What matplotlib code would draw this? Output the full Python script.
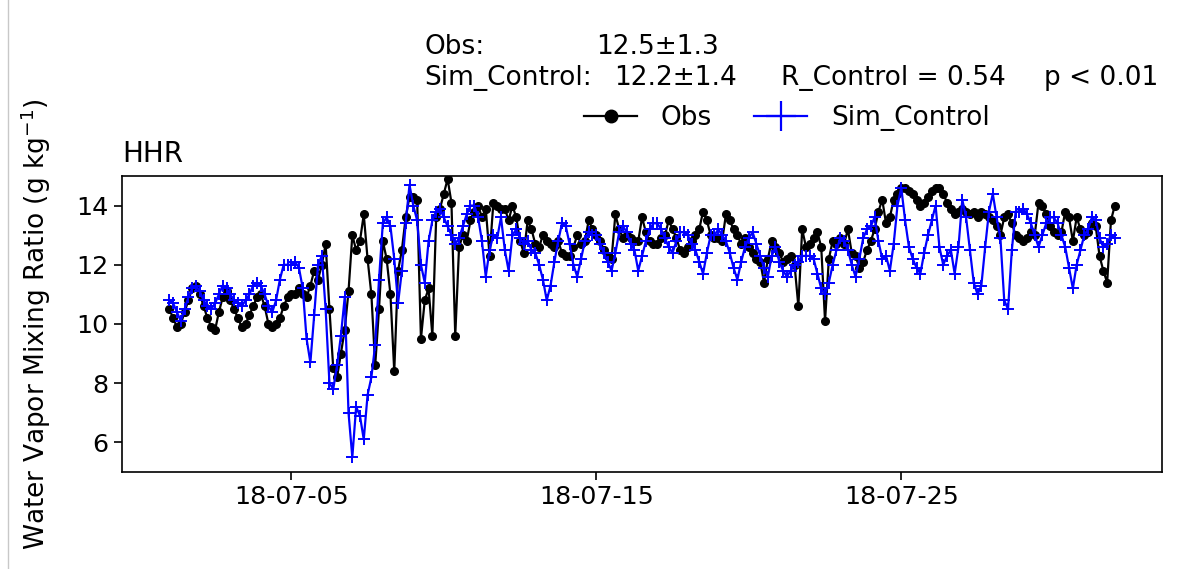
import matplotlib
matplotlib.use("Agg")
import matplotlib.pyplot as plt
import matplotlib.dates as mdates
from matplotlib.lines import Line2D
import numpy as np
import pandas as pd

# ---------------- data (3-hourly estimates) ----------------
start_time = "2018-07-01 00:00"
step = "3h"

obs_values = [
    10.5, 10.2, 9.9, 10.0, 10.4, 10.8, 11.2, 11.3,
    11.0, 10.6, 10.2, 9.9, 9.8, 10.4, 10.9, 11.1,
    10.8, 10.5, 10.2, 9.9, 10.0, 10.3, 10.6, 10.9,
    11.0, 10.6, 10.0, 9.9, 10.0, 10.2, 10.6, 10.9,
    11.0, 11.0, 11.2, 11.0, 10.9, 11.3, 11.8, 11.5,
    12.0, 12.7, 10.5, 8.5, 8.2, 9.0, 9.8, 11.1,
    13.0, 12.5, 12.8, 13.7, 12.2, 11.0, 8.6, 10.5,
    12.8, 12.2, 11.0, 8.4, 11.8, 12.5, 13.6, 14.3,
    14.3, 14.2, 9.5, 10.8, 11.2, 9.6, 13.6, 13.9,
    14.4, 14.9, 14.1, 9.6, 12.6, 13.0, 12.8, 13.5,
    13.8, 14.0, 13.6, 13.9, 12.3, 14.1, 14.0, 13.9,
    13.9, 13.5, 14.0, 13.6, 12.8, 12.4, 13.5, 13.2,
    12.7, 12.6, 13.0, 12.8, 12.7, 12.6, 12.8, 12.4,
    12.3, 12.3, 12.6, 13.0, 12.7, 12.8, 13.5, 13.2,
    13.0, 12.8, 12.5, 12.3, 12.2, 13.7, 13.2, 12.9,
    13.0, 12.9, 12.8, 12.8, 13.6, 13.1, 12.8, 12.7,
    12.7, 12.9, 13.0, 13.5, 13.2, 12.9, 12.5, 12.4,
    12.6, 12.8, 13.0, 13.2, 13.8, 13.5, 13.0, 12.9,
    12.9, 12.8, 13.7, 13.5, 13.2, 13.0, 12.7, 12.9,
    12.6, 12.4, 12.2, 12.1, 11.4, 12.2, 12.8, 12.6,
    12.4, 12.1, 12.2, 12.3, 12.0, 10.6, 13.2, 12.6,
    12.7, 12.9, 13.1, 12.6, 10.1, 12.2, 12.8, 12.7,
    12.9, 12.7, 13.2, 12.4, 12.3, 11.9, 12.1, 12.5,
    12.8, 13.2, 13.8, 14.2, 13.4, 13.6, 14.2, 14.4,
    14.6, 14.6, 14.5, 14.4, 14.2, 14.0, 14.1, 14.3,
    14.5, 14.6, 14.6, 14.4, 14.1, 13.9, 13.7, 13.8,
    13.9, 13.8, 13.7, 13.8, 13.6, 13.8, 13.7, 13.6,
    13.5, 13.3, 13.0, 13.6, 13.7, 13.4, 13.0, 12.9,
    12.8, 12.9, 13.1, 13.0, 14.1, 14.0, 13.7, 13.3,
    13.1, 13.0, 13.1, 13.8, 13.6, 12.8, 13.6, 13.2,
    13.0, 13.1, 13.4, 13.3, 12.3, 11.8, 11.4, 13.5,
    14.0,
]

sim_values = [
    10.8, 10.7, 10.4, 10.1, 10.5, 10.9, 11.2, 11.3,
    11.1, 10.8, 10.6, 10.5, 10.7, 11.0, 11.3, 11.2,
    11.0, 10.8, 10.7, 10.6, 10.8, 11.0, 11.3, 11.4,
    11.3, 11.0, 10.6, 10.4, 10.8, 11.5, 12.0, 12.0,
    12.0, 12.1, 11.9, 11.2, 9.5, 8.7, 10.3, 12.0,
    12.3, 10.5, 8.0, 7.8, 8.6, 9.6, 10.9, 7.0,
    5.5, 7.2, 6.9, 6.1, 7.6, 8.2, 9.3, 11.5,
    13.4, 13.6, 13.3, 12.2, 10.7, 11.8, 13.4, 14.7,
    14.0, 13.5, 12.0, 11.4, 12.8, 13.5, 13.8, 13.9,
    13.6, 13.3, 13.0, 12.7, 12.9, 13.3, 13.7, 14.0,
    14.0, 13.6, 12.8, 11.6, 12.5, 13.0, 12.9, 13.6,
    12.5, 11.8, 13.0, 13.2, 12.9, 12.7, 12.8, 12.5,
    12.4, 12.0, 11.5, 10.8, 11.3, 12.1, 12.8, 13.4,
    13.3, 12.7, 12.0, 11.6, 12.2, 12.8, 13.1, 13.0,
    13.0, 12.7, 12.4, 12.1, 11.8, 12.4, 13.1, 13.3,
    13.1, 12.7, 12.5, 11.8, 12.3, 12.8, 13.2, 13.4,
    13.4, 13.2, 12.9, 12.6, 12.4, 12.8, 13.1, 13.1,
    13.0, 12.7, 12.5, 12.1, 11.7, 12.4, 13.0, 13.0,
    13.2, 13.0, 12.8, 12.4, 11.9, 11.5, 12.1, 12.6,
    12.9, 13.1, 12.7, 12.3, 11.9, 11.6, 12.3, 12.6,
    12.1, 11.8, 11.6, 11.8, 12.0, 12.1, 12.3, 12.3,
    12.3, 12.2, 11.7, 11.2, 11.0, 11.4, 12.0, 12.5,
    12.9, 12.8, 12.5, 12.0, 11.6, 12.2, 12.9, 13.2,
    13.3, 13.6, 12.8, 12.2, 12.3, 11.8, 12.7, 14.0,
    14.6, 13.5, 12.6, 12.2, 11.9, 11.7, 12.4, 13.0,
    13.5, 14.0, 12.6, 12.0, 12.3, 12.5, 11.7, 12.6,
    14.2, 13.6, 12.5, 11.4, 11.0, 11.3, 12.6, 13.8,
    14.4, 13.6, 12.9, 10.8, 10.5, 12.5, 13.8, 13.8,
    13.9, 13.7, 13.4, 13.0, 12.6, 13.0, 13.4, 13.6,
    13.6, 13.4, 13.0, 12.6, 11.9, 11.2, 12.0, 12.5,
    13.0, 13.2, 13.6, 13.5, 12.9, 12.6, 12.7, 13.0,
    12.9,
]

site_name = "HHR"
obs_label = "Obs"
sim_label = "Sim_Control"
obs_stat = "12.5±1.3"
sim_stat = "12.2±1.4"
r_text = "R_Control = 0.54"
p_text = "p < 0.01"
ylabel = "Water Vapor Mixing Ratio (g kg$^{-1}$)"
yticks = [6, 8, 10, 12, 14]
ylim = (5, 15)
tick_days = [5, 15, 25]

times = pd.date_range(start_time, periods=len(obs_values), freq=step)

# ---------------- figure ----------------
plt.rcParams['font.family'] = ['DejaVu Sans']
FS = 18.3

fig = plt.figure(figsize=(11.77, 5.69), dpi=100)
ax = fig.add_axes([0.1037, 0.1705, 0.8836, 0.5202])

ax.plot(times, obs_values, color='black', marker='o', markersize=5.5,
        linewidth=1.6, label=obs_label)
ax.plot(times, sim_values, color='blue', marker='+', markersize=9,
        markeredgewidth=1.4, linewidth=1.6, label=sim_label)

ax.set_ylim(*ylim)
ax.set_yticks(yticks)
ax.xaxis.set_major_locator(mdates.DayLocator(bymonthday=tick_days))
ax.xaxis.set_major_formatter(mdates.DateFormatter('%y-%m-%d'))
ax.tick_params(axis='both', labelsize=FS, length=6, width=1.2)
for s in ax.spines.values():
    s.set_linewidth(1.2)

ax.set_title(site_name, loc='left', fontsize=20, pad=10)
ax.set_ylabel(ylabel, fontsize=19)
ax.yaxis.set_label_coords(-0.066, 0.5)

# statistics text
W, H = 1177.0, 569.0
tfs = 19
fig.text(424 / W, 1 - 47 / H, obs_label + ":", fontsize=tfs, va='center', ha='left')
fig.text(596 / W, 1 - 47 / H, obs_stat, fontsize=tfs, va='center', ha='left')
fig.text(424 / W, 1 - 78 / H, sim_label + ":", fontsize=tfs, va='center', ha='left')
fig.text(614 / W, 1 - 78 / H, sim_stat, fontsize=tfs, va='center', ha='left')
fig.text(781 / W, 1 - 78 / H, r_text, fontsize=tfs, va='center', ha='left')
fig.text(1044 / W, 1 - 78 / H, p_text, fontsize=tfs, va='center', ha='left')

handles = [
    Line2D([], [], color='black', marker='o', markersize=9, linewidth=1.6),
    Line2D([], [], color='blue', marker='+', markersize=22, markeredgewidth=1.6, linewidth=1.6),
]
fig.legend(handles, [obs_label, sim_label], loc='center',
           bbox_to_anchor=(787 / W, 1 - 118 / H), ncol=2, frameon=False,
           fontsize=tfs, handlelength=2.0, columnspacing=1.6, handletextpad=0.9)

# thin grey frame line at the left edge of the screenshot
fig.add_artist(Line2D([8 / W, 8 / W], [0, 1], transform=fig.transFigure,
                      color='#c8c8c8', linewidth=1))

fig.savefig('out.png', dpi=100)
